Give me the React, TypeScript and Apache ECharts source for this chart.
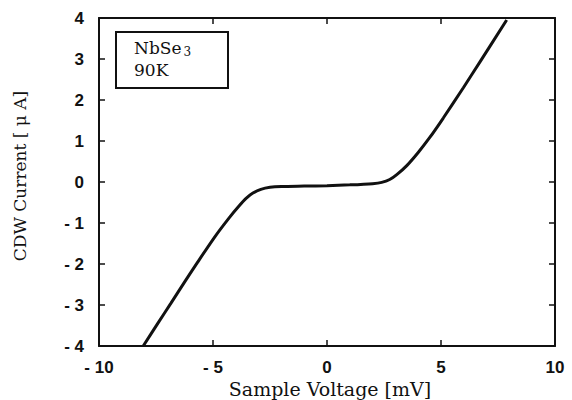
import React, { useEffect, useRef } from "react";
import * as echarts from "echarts";

const voltage = [-8.06, -7.4, -6.85, -6.2, -5.68, -4.95, -4.3, -3.85, -3.55, -3.25, -2.9, -2.5, -2.0, -1.0, 0, 1.0, 2.0, 2.4, 2.75, 3.06, 3.5, 4.0, 4.5, 5.1, 5.98, 6.71, 7.88];
const current = [-4.0, -3.43, -2.96, -2.4, -1.96, -1.36, -0.88, -0.58, -0.4, -0.27, -0.18, -0.13, -0.11, -0.1, -0.09, -0.07, -0.04, -0.01, 0.06, 0.18, 0.4, 0.72, 1.08, 1.56, 2.3, 2.93, 3.95];
const xTicks = [-10, -5, 0, 5, 10];
const yTicks = [-4, -3, -2, -1, 0, 1, 2, 3, 4];
const sampleName = "NbSe";
const sampleSub = "3";
const temperature = "90K";
const xTitle = "Sample Voltage [mV]";
const yTitle = "CDW Current [ μ A]";

export default function App() {
  const ref = useRef<HTMLDivElement>(null);
  useEffect(() => {
    if (!ref.current) return;
    const chart = echarts.init(ref.current, null, { renderer: "svg" });
    const ink = "#111";
    const tickFont = { color: ink, fontSize: 17, fontFamily: "Liberation Sans, Arial, sans-serif", fontWeight: "bold" };
    const axisLine = { show: true, onZero: false, lineStyle: { color: ink, width: 2 } };
    const axisTick = { show: true, inside: true, length: 6, lineStyle: { color: ink, width: 1.5 } };
    const xMin = xTicks[0], xMax = xTicks[xTicks.length - 1];
    const yMin = yTicks[0], yMax = yTicks[yTicks.length - 1];
    const fmt = (v: number) => (v < 0 ? "- " + Math.abs(v) : String(v));
    chart.setOption({
      animation: false,
      backgroundColor: "#fff",
      grid: { left: 99, right: 17, top: 18, bottom: 54 },
      xAxis: [
        {
          type: "value", min: xMin, max: xMax, interval: 5, position: "bottom",
          axisLine, axisTick, splitLine: { show: false },
          axisLabel: { ...tickFont, margin: 13, formatter: fmt },
        },
        {
          type: "value", min: xMin, max: xMax, interval: 5, position: "top",
          axisLine, axisTick, splitLine: { show: false }, axisLabel: { show: false },
        },
      ],
      yAxis: [
        {
          type: "value", min: yMin, max: yMax, interval: 1, position: "left",
          axisLine, axisTick, splitLine: { show: false },
          axisLabel: { ...tickFont, margin: 15, formatter: fmt },
        },
        {
          type: "value", min: yMin, max: yMax, interval: 1, position: "right",
          axisLine, axisTick, splitLine: { show: false }, axisLabel: { show: false },
        },
      ],
      series: [
        {
          type: "line",
          data: voltage.map((v, i) => [v, current[i]]),
          showSymbol: false,
          smooth: 0.25,
          lineStyle: { color: ink, width: 3 },
        },
      ],
      graphic: [
        {
          type: "rect",
          shape: { x: 116, y: 32, width: 112, height: 56 },
          style: { fill: "#fff", stroke: ink, lineWidth: 2 },
        },
        {
          type: "text",
          x: 134, y: 37,
          style: {
            text: `{a|${sampleName}}{s|${sampleSub}}\n{a|${temperature}}`,
            rich: {
              a: { fontFamily: "DejaVu Serif, serif", fontSize: 17, fill: ink, lineHeight: 22 },
              s: { fontFamily: "DejaVu Serif, serif", fontSize: 12, fill: ink, lineHeight: 22, padding: [8, 0, 0, 2] },
            },
          },
        },
        {
          type: "text",
          x: 330, y: 389,
          style: {
            text: xTitle, fill: ink, fontFamily: "DejaVu Serif, serif", fontSize: 19,
            align: "center", verticalAlign: "middle",
          },
        },
        {
          type: "text",
          x: 20, y: 176, rotation: Math.PI / 2,
          style: {
            text: yTitle, fill: ink, fontFamily: "DejaVu Serif, serif", fontSize: 17,
            align: "center", verticalAlign: "middle",
          },
        },
      ],
    });
    return () => chart.dispose();
  }, []);
  return <div ref={ref} style={{ width: 572, height: 400, position: "absolute", left: 0, top: 0 }} />;
}
